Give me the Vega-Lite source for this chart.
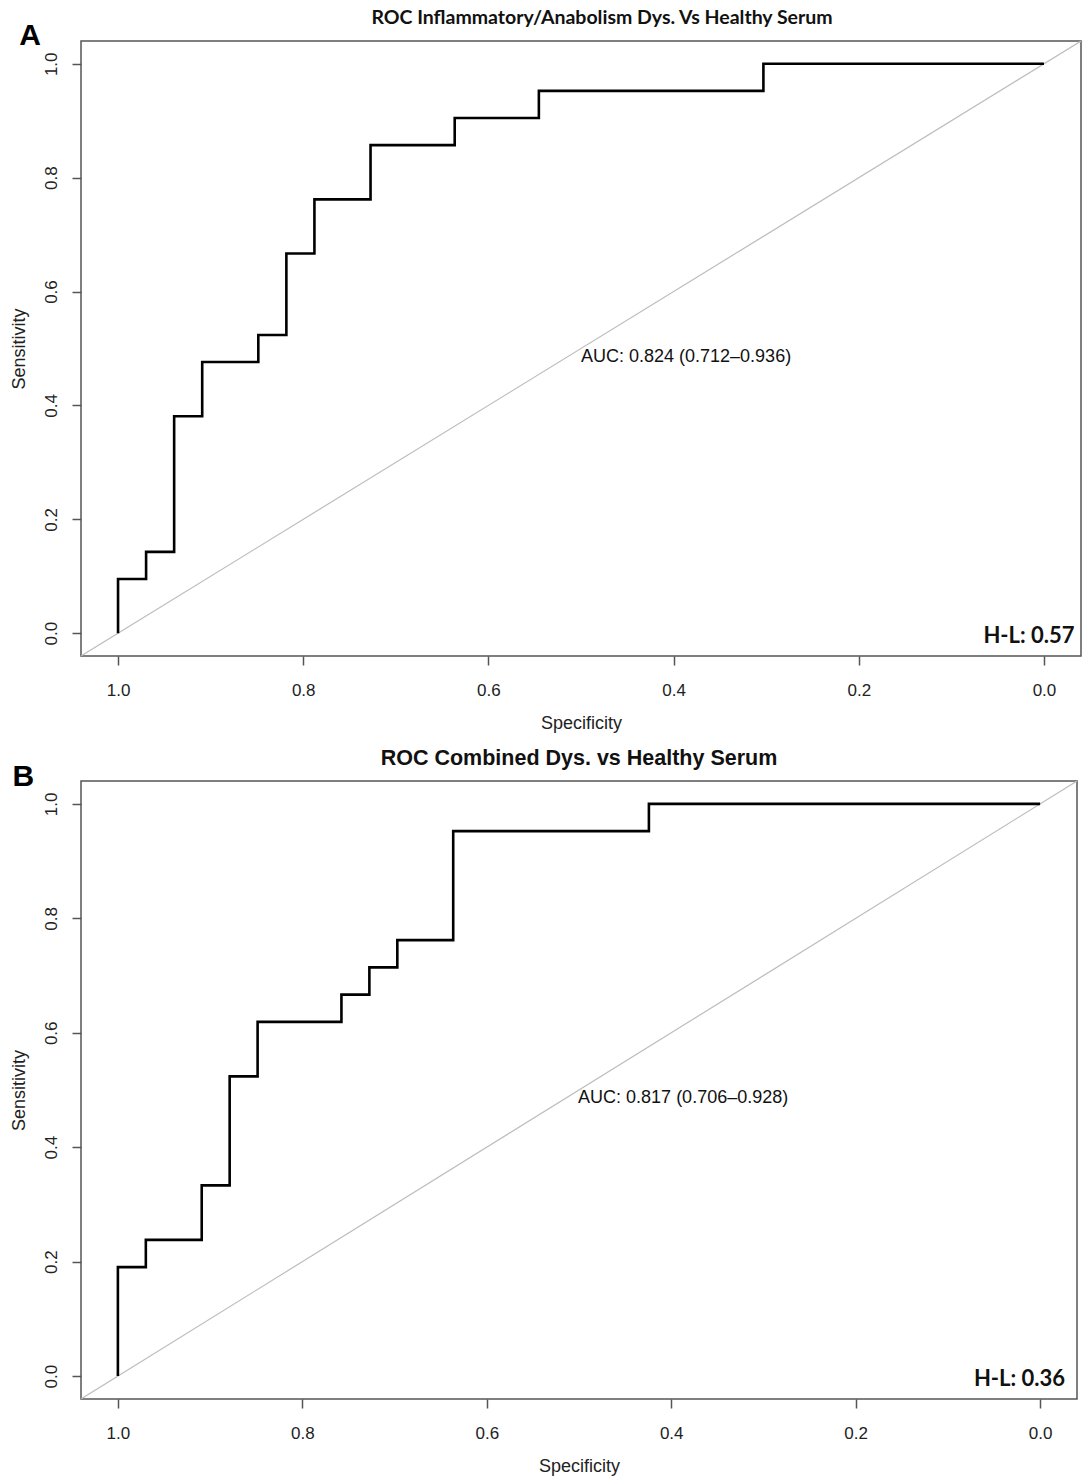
{
  "$schema": "https://vega.github.io/schema/vega-lite/v6.json",
  "background": "white",
  "padding": {"left": 9, "top": 7, "right": 2, "bottom": 4},
  "spacing": 14,
  "config": {
    "view": {"stroke": "#555555", "strokeWidth": 1.5},
    "axis": {
      "grid": false,
      "domain": false,
      "tickColor": "#555555",
      "tickWidth": 1.5,
      "tickSize": 9,
      "labelFont": "Liberation Sans",
      "labelFontSize": 17,
      "labelColor": "#222222",
      "titleFont": "Liberation Sans",
      "titleFontSize": 18,
      "titleFontWeight": "normal",
      "titleColor": "#222222"
    }
  },
  "datasets": {
    "rocA": [
      {"i": 1, "spec": 1.0, "sens": 0.0},
      {"i": 2, "spec": 1.0, "sens": 0.0952},
      {"i": 3, "spec": 0.9697, "sens": 0.0952},
      {"i": 4, "spec": 0.9697, "sens": 0.1429},
      {"i": 5, "spec": 0.9394, "sens": 0.1429},
      {"i": 6, "spec": 0.9394, "sens": 0.381},
      {"i": 7, "spec": 0.9091, "sens": 0.381},
      {"i": 8, "spec": 0.9091, "sens": 0.4762},
      {"i": 9, "spec": 0.8485, "sens": 0.4762},
      {"i": 10, "spec": 0.8485, "sens": 0.5238},
      {"i": 11, "spec": 0.8182, "sens": 0.5238},
      {"i": 12, "spec": 0.8182, "sens": 0.6667},
      {"i": 13, "spec": 0.7879, "sens": 0.6667},
      {"i": 14, "spec": 0.7879, "sens": 0.7619},
      {"i": 15, "spec": 0.7273, "sens": 0.7619},
      {"i": 16, "spec": 0.7273, "sens": 0.8571},
      {"i": 17, "spec": 0.6364, "sens": 0.8571},
      {"i": 18, "spec": 0.6364, "sens": 0.9048},
      {"i": 19, "spec": 0.5455, "sens": 0.9048},
      {"i": 20, "spec": 0.5455, "sens": 0.9524},
      {"i": 21, "spec": 0.303, "sens": 0.9524},
      {"i": 22, "spec": 0.303, "sens": 1.0},
      {"i": 23, "spec": 0.0, "sens": 1.0}
    ],
    "rocB": [
      {"i": 1, "spec": 1.0, "sens": 0.0},
      {"i": 2, "spec": 1.0, "sens": 0.1905},
      {"i": 3, "spec": 0.9697, "sens": 0.1905},
      {"i": 4, "spec": 0.9697, "sens": 0.2381},
      {"i": 5, "spec": 0.9091, "sens": 0.2381},
      {"i": 6, "spec": 0.9091, "sens": 0.3333},
      {"i": 7, "spec": 0.8788, "sens": 0.3333},
      {"i": 8, "spec": 0.8788, "sens": 0.5238},
      {"i": 9, "spec": 0.8485, "sens": 0.5238},
      {"i": 10, "spec": 0.8485, "sens": 0.619},
      {"i": 11, "spec": 0.7576, "sens": 0.619},
      {"i": 12, "spec": 0.7576, "sens": 0.6667},
      {"i": 13, "spec": 0.7273, "sens": 0.6667},
      {"i": 14, "spec": 0.7273, "sens": 0.7143},
      {"i": 15, "spec": 0.697, "sens": 0.7143},
      {"i": 16, "spec": 0.697, "sens": 0.7619},
      {"i": 17, "spec": 0.6364, "sens": 0.7619},
      {"i": 18, "spec": 0.6364, "sens": 0.9524},
      {"i": 19, "spec": 0.4242, "sens": 0.9524},
      {"i": 20, "spec": 0.4242, "sens": 1.0},
      {"i": 21, "spec": 0.0, "sens": 1.0}
    ],
    "diag": [
      {"spec": 1.04, "sens": -0.04},
      {"spec": -0.04, "sens": 1.04}
    ],
    "notesA": [
      {"spec": 0.5, "sens": 0.485, "label": "AUC: 0.824 (0.712\u20130.936)"}
    ],
    "hlA": [
      {"spec": -0.033, "sens": -0.005, "label": "H-L: 0.57"}
    ],
    "letterA": [
      {"spec": 1.095, "sens": 1.049, "label": "A"}
    ],
    "notesB": [
      {"spec": 0.501, "sens": 0.486, "label": "AUC: 0.817 (0.706\u20130.928)"}
    ],
    "hlB": [
      {"spec": -0.027, "sens": -0.005, "label": "H-L: 0.36"}
    ],
    "letterB": [
      {"spec": 1.1025, "sens": 1.047, "label": "B"}
    ]
  },
  "vconcat": [
    {
      "width": 1000,
      "height": 615,
      "title": {
        "text": "ROC Inflammatory/Anabolism Dys. Vs Healthy Serum",
        "font": "Lato",
        "fontSize": 19.5,
        "fontWeight": "bold",
        "color": "#111111",
        "offset": -8,
        "dx": 21
      },
      "encoding": {
        "x": {
          "field": "spec",
          "type": "quantitative",
          "title": "Specificity",
          "scale": {"domain": [-0.04, 1.04], "reverse": true, "nice": false, "zero": false},
          "axis": {"values": [0, 0.2, 0.4, 0.6, 0.8, 1.0], "format": ".1f", "labelPadding": 17, "titlePadding": 16}
        },
        "y": {
          "field": "sens",
          "type": "quantitative",
          "title": "Sensitivity",
          "scale": {"domain": [-0.04, 1.04], "nice": false, "zero": false},
          "axis": {"values": [0, 0.2, 0.4, 0.6, 0.8, 1.0], "format": ".1f", "labelAngle": -90, "labelAlign": "center", "labelBaseline": "bottom", "labelPadding": 12, "titlePadding": 14}
        }
      },
      "layer": [
        {"data": {"name": "diag"}, "mark": {"type": "line", "color": "#bdbdbd", "strokeWidth": 1.2, "clip": true}},
        {"data": {"name": "rocA"}, "mark": {"type": "line", "color": "#000000", "strokeWidth": 2.6}, "encoding": {"order": {"field": "i", "type": "quantitative"}}},
        {"data": {"name": "notesA"}, "mark": {"type": "text", "align": "left", "baseline": "middle", "font": "Liberation Sans", "fontSize": 18, "color": "#111111"}, "encoding": {"text": {"field": "label"}}},
        {"data": {"name": "hlA"}, "mark": {"type": "text", "align": "right", "baseline": "middle", "font": "Lato", "fontWeight": "bold", "fontSize": 22, "color": "#111111"}, "encoding": {"text": {"field": "label"}}},
        {"data": {"name": "letterA"}, "mark": {"type": "text", "align": "center", "baseline": "middle", "font": "Liberation Sans", "fontWeight": "bold", "fontSize": 30, "color": "#000000"}, "encoding": {"text": {"field": "label"}}}
      ]
    },
    {
      "width": 996,
      "height": 618,
      "title": {
        "text": "ROC Combined Dys. vs Healthy Serum",
        "font": "Liberation Sans",
        "fontSize": 21.5,
        "fontWeight": "bold",
        "color": "#111111",
        "offset": -8
      },
      "encoding": {
        "x": {
          "field": "spec",
          "type": "quantitative",
          "title": "Specificity",
          "scale": {"domain": [-0.04, 1.04], "reverse": true, "nice": false, "zero": false},
          "axis": {"values": [0, 0.2, 0.4, 0.6, 0.8, 1.0], "format": ".1f", "labelPadding": 17, "titlePadding": 16}
        },
        "y": {
          "field": "sens",
          "type": "quantitative",
          "title": "Sensitivity",
          "scale": {"domain": [-0.04, 1.04], "nice": false, "zero": false},
          "axis": {"values": [0, 0.2, 0.4, 0.6, 0.8, 1.0], "format": ".1f", "labelAngle": -90, "labelAlign": "center", "labelBaseline": "bottom", "labelPadding": 12, "titlePadding": 14}
        }
      },
      "layer": [
        {"data": {"name": "diag"}, "mark": {"type": "line", "color": "#bdbdbd", "strokeWidth": 1.2, "clip": true}},
        {"data": {"name": "rocB"}, "mark": {"type": "line", "color": "#000000", "strokeWidth": 2.6}, "encoding": {"order": {"field": "i", "type": "quantitative"}}},
        {"data": {"name": "notesB"}, "mark": {"type": "text", "align": "left", "baseline": "middle", "font": "Liberation Sans", "fontSize": 18, "color": "#111111"}, "encoding": {"text": {"field": "label"}}},
        {"data": {"name": "hlB"}, "mark": {"type": "text", "align": "right", "baseline": "middle", "font": "Lato", "fontWeight": "bold", "fontSize": 22, "color": "#111111"}, "encoding": {"text": {"field": "label"}}},
        {"data": {"name": "letterB"}, "mark": {"type": "text", "align": "center", "baseline": "middle", "font": "Liberation Sans", "fontWeight": "bold", "fontSize": 30, "color": "#000000"}, "encoding": {"text": {"field": "label"}}}
      ]
    }
  ]
}
